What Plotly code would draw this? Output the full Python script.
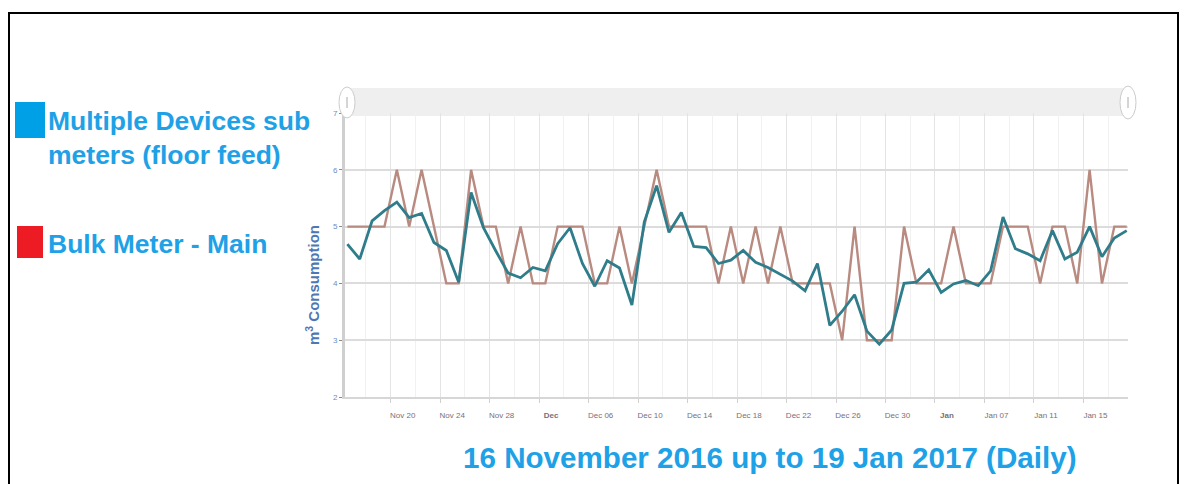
import pandas as pd
import plotly.graph_objects as go

# ---------------- data ----------------
start_date = "2016-11-16"
sub_meters = [4.69, 4.43, 5.10, 5.28, 5.43, 5.16, 5.23, 4.72, 4.58, 4.02,
              5.60, 4.98, 4.57, 4.18, 4.10, 4.28, 4.22, 4.70, 4.98, 4.35,
              3.95, 4.40, 4.27, 3.62, 5.08, 5.72, 4.90, 5.25, 4.65, 4.63,
              4.35, 4.41, 4.58, 4.37, 4.28, 4.16, 4.04, 3.87, 4.35, 3.26,
              3.51, 3.80, 3.16, 2.93, 3.18, 4.00, 4.02, 4.24, 3.84, 3.99,
              4.05, 3.96, 4.22, 5.17, 4.61, 4.52, 4.40, 4.93, 4.43, 4.55,
              5.00, 4.47, 4.80, 4.93]
bulk_meter = [5, 5, 5, 5, 6, 5, 6, 5, 4, 4,
              6, 5, 5, 4, 5, 4, 4, 5, 5, 5,
              4, 4, 5, 4, 5, 6, 5, 5, 5, 5,
              4, 5, 4, 5, 4, 5, 4, 4, 4, 4,
              3, 5, 3, 3, 3, 5, 4, 4, 4, 5,
              4, 4, 4, 5, 5, 5, 4, 5, 5, 4,
              6, 4, 5, 5]
tick_dates = ["2016-11-20", "2016-11-24", "2016-11-28", "2016-12-02", "2016-12-06",
              "2016-12-10", "2016-12-14", "2016-12-18", "2016-12-22", "2016-12-26",
              "2016-12-30", "2017-01-03", "2017-01-07", "2017-01-11", "2017-01-15"]
tick_labels = ["Nov 20", "Nov 24", "Nov 28", "<b>Dec</b>", "Dec 06", "Dec 10", "Dec 14",
               "Dec 18", "Dec 22", "Dec 26", "Dec 30", "<b>Jan</b>", "Jan 07", "Jan 11", "Jan 15"]
series_names = ["Multiple Devices sub<br>meters (floor feed)", "Bulk Meter - Main"]
y_title = "m<sup>3</sup> Consumption"
chart_title = "16 November 2016 up to 19 Jan 2017 (Daily)"

dates = pd.date_range(start_date, periods=len(sub_meters), freq="D")

# ---------------- geometry helpers (page pixel coords; page has 8px body margin) ----------------
OFF = 8
W, H = 1188 - OFF, 484 - OFF
L, R, T, B = 345, 1128, 113, 397   # plot area in page px


def xp(px):
    return (px - L) / (R - L)


def yp(py):
    return (B - py) / (B - T)


FONT = "Liberation Sans, Arial, sans-serif"
BLUE_TXT = "#1ea1e6"

fig = go.Figure()
fig.add_trace(go.Scatter(x=dates, y=bulk_meter, mode="lines", name="Bulk Meter - Main",
                         line=dict(color="#b88a80", width=2.4), showlegend=False,
                         hoverinfo="skip"))
fig.add_trace(go.Scatter(x=dates, y=sub_meters, mode="lines", name="Multiple Devices sub meters",
                         line=dict(color="#2f7d8b", width=2.8), showlegend=False,
                         hoverinfo="skip"))

tickvals = [pd.Timestamp(d) - pd.Timedelta(hours=12) for d in tick_dates]

fig.update_layout(
    width=W, height=H,
    margin=dict(l=L - OFF, r=W - (R - OFF), t=T - OFF, b=H - (B - OFF), pad=0),
    paper_bgcolor="white", plot_bgcolor="white",
    font=dict(family=FONT),
    xaxis=dict(
        type="date",
        range=[dates[0] - pd.Timedelta(hours=4.6), dates[-1] + pd.Timedelta(hours=2.5)],
        tickmode="array", tickvals=tickvals, ticktext=tick_labels,
        ticklabelshift=12, ticklabelstandoff=5,
        showgrid=True, gridcolor="#e4e4e4", gridwidth=1,
        ticks="outside", ticklen=4, tickcolor="#d0d0d0",
        tickfont=dict(size=8, color="#7a6f78"),
        showline=True, linecolor="#d6d6d6", linewidth=2,
        zeroline=False,
        minor=dict(tick0="2016-11-17 12:00", dtick=2 * 86400000, showgrid=True,
                   gridcolor="#f1f1f1", gridwidth=1, ticks=""),
    ),
    yaxis=dict(
        range=[2, 7], dtick=1, tick0=2,
        showgrid=True, gridcolor="#dcdcdc", gridwidth=2,
        zeroline=False,
        showline=True, linecolor="#cfcfcf", linewidth=3,
        ticks="outside", ticklen=3, tickcolor="#8a8a8a",
        tickfont=dict(size=8, color="#6b8cc4"),
    ),
)

shapes = [
    # outer frame
    dict(type="rect", xref="paper", yref="paper", x0=xp(9), x1=xp(1178), y0=yp(530), y1=yp(13),
         line=dict(color="black", width=2), fillcolor="rgba(0,0,0,0)", layer="above"),
    # navigator band
    dict(type="rect", xref="paper", yref="paper", x0=xp(345), x1=xp(1128), y0=yp(116), y1=yp(88),
         line=dict(width=0), fillcolor="#efefef", layer="below"),
    # handles
    dict(type="circle", xref="paper", yref="paper", x0=xp(339), x1=xp(355), y0=yp(118), y1=yp(87),
         line=dict(color="#cccccc", width=1), fillcolor="white", layer="above"),
    dict(type="line", xref="paper", yref="paper", x0=xp(347), x1=xp(347), y0=yp(108), y1=yp(97),
         line=dict(color="#aaaaaa", width=1), layer="above"),
    dict(type="circle", xref="paper", yref="paper", x0=xp(1120), x1=xp(1136), y0=yp(119), y1=yp(86),
         line=dict(color="#cccccc", width=1), fillcolor="white", layer="above"),
    dict(type="line", xref="paper", yref="paper", x0=xp(1128), x1=xp(1128), y0=yp(108), y1=yp(97),
         line=dict(color="#aaaaaa", width=1), layer="above"),
    # legend squares
    dict(type="rect", xref="paper", yref="paper", x0=xp(15), x1=xp(45), y0=yp(138), y1=yp(102),
         line=dict(width=0), fillcolor="#00a0e6", layer="above"),
    dict(type="rect", xref="paper", yref="paper", x0=xp(17), x1=xp(43), y0=yp(258), y1=yp(226),
         line=dict(width=0), fillcolor="#ed1c24", layer="above"),
]
fig.update_layout(shapes=shapes)

annotations = [
    dict(text="<b>" + series_names[0] + "</b>", xref="paper", yref="paper",
         x=xp(46), y=yp(104), xanchor="left", yanchor="top", align="left", showarrow=False,
         font=dict(size=26.5, color=BLUE_TXT, family=FONT)),
    dict(text="<b>" + series_names[1] + "</b>", xref="paper", yref="paper",
         x=xp(46), y=yp(227), xanchor="left", yanchor="top", align="left", showarrow=False,
         font=dict(size=26.5, color=BLUE_TXT, family=FONT)),
    dict(text="<b>" + chart_title + "</b>", xref="paper", yref="paper",
         x=xp(770), y=yp(457), xanchor="center", yanchor="middle", showarrow=False,
         font=dict(size=29.6, color=BLUE_TXT, family=FONT)),
    dict(text="<b>" + y_title + "</b>", xref="paper", yref="paper",
         x=xp(312), y=yp(285), xanchor="center", yanchor="middle", showarrow=False,
         textangle=-90, font=dict(size=15, color="#4f77b3", family=FONT)),
]
fig.update_layout(annotations=annotations)

fig.write_html("out.html")
